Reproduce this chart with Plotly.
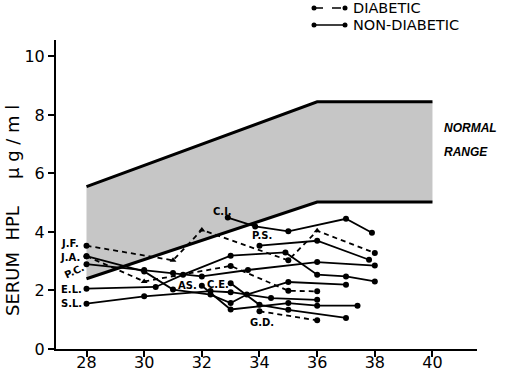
import plotly.graph_objects as go

# ---------------- data ----------------
weeks_ticks = [28, 30, 32, 34, 36, 38, 40]
value_ticks = [0, 2, 4, 6, 8, 10]

normal_weeks = [28, 36, 40]
normal_low = [2.4, 5.02, 5.02]
normal_high = [5.55, 8.45, 8.45]

# diabetic (dashed)
jf_w = [28, 31, 32, 35, 36, 38]
jf_v = [3.53, 3.03, 4.07, 3.03, 4.04, 3.28]
jf_sym = ["circle", "triangle-up", "triangle-up", "circle", "triangle-up", "circle"]
ja_w = [28, 30, 33, 35, 36]
ja_v = [3.17, 2.31, 2.84, 1.99, 1.97]
ja_sym = ["circle", "triangle-up", "circle", "circle", "circle"]
gd_w = [34, 36]
gd_v = [1.29, 0.98]
gd_sym = ["circle", "circle"]

# non-diabetic (solid)
ci_w = [32.9, 33.85, 35, 37, 37.9]
ci_v = [4.49, 4.19, 4.02, 4.45, 3.97]
ps_w = [34, 36, 37.8]
ps_v = [3.53, 3.70, 3.05]
pc_w = [28, 30, 31, 32, 33.6, 36, 38]
pc_v = [2.9, 2.7, 2.6, 2.48, 2.7, 2.97, 2.85]
el_w = [28, 30.4, 31.35, 33, 34.9, 36, 37, 38]
el_v = [2.06, 2.12, 2.54, 3.19, 3.3, 2.54, 2.48, 2.31]
sl_w = [28, 30, 32.3, 33, 34.4, 36]
sl_v = [1.55, 1.8, 1.98, 1.94, 1.74, 1.68]
ja2_w = [28, 30, 31, 32.3, 33, 33.56, 35, 37]
ja2_v = [3.17, 2.65, 2.03, 1.86, 1.57, 1.86, 2.29, 2.2]
as_w = [32, 33, 35, 36, 37.4]
as_v = [2.16, 1.35, 1.57, 1.48, 1.48]
ce_w = [33, 34, 35, 37]
ce_v = [2.25, 1.51, 1.34, 1.06]

diabetic = [(jf_w, jf_v, jf_sym), (ja_w, ja_v, ja_sym), (gd_w, gd_v, gd_sym)]
nondiabetic = [(ci_w, ci_v), (ps_w, ps_v), (pc_w, pc_v), (el_w, el_v),
               (sl_w, sl_v), (ja2_w, ja2_v), (as_w, as_v), (ce_w, ce_v)]

patient_labels = ["J.F.", "J.A.", "P.C.", "E.L.", "S.L.", "C.I.", "P.S.", "AS.", "C.E.", "G.D."]
label_w = [27.42, 27.42, 27.55, 27.48, 27.48, 32.7, 34.1, 31.5, 32.55, 34.1]
label_v = [3.6, 3.12, 2.66, 2.03, 1.55, 4.69, 3.87, 2.16, 2.2, 0.9]
label_angle = [0, 0, -25, 0, 0, 0, 0, 0, 0, 0]

FONT = "DejaVu Sans"

fig = go.Figure()

# normal range band
fig.add_trace(go.Scatter(x=normal_weeks, y=normal_low, mode="lines",
                         line=dict(color="black", width=3), hoverinfo="skip"))
fig.add_trace(go.Scatter(x=normal_weeks, y=normal_high, mode="lines",
                         fill="tonexty", fillcolor="#c6c6c6",
                         line=dict(color="black", width=3), hoverinfo="skip"))

for w, v, s in diabetic:
    fig.add_trace(go.Scatter(x=w, y=v, mode="lines+markers",
                             line=dict(color="black", width=1.8, dash="5px,4px"),
                             marker=dict(color="black", size=6, symbol=s)))
for w, v in nondiabetic:
    fig.add_trace(go.Scatter(x=w, y=v, mode="lines+markers",
                             line=dict(color="black", width=1.8),
                             marker=dict(color="black", size=6)))

annotations = []
for t, w, v, a in zip(patient_labels, label_w, label_v, label_angle):
    annotations.append(dict(x=w, y=v, xref="x", yref="y", text="<b>" + t + "</b>", showarrow=False,
                            textangle=a, font=dict(family=FONT, size=10, color="black")))

# normal range text
annotations.append(dict(x=(442 - 56) / 421, y=(349 - 128) / 309, xref="paper", yref="paper",
                        xanchor="left", yanchor="middle", showarrow=False,
                        text="<b><i>NORMAL</i></b>",
                        font=dict(family="Liberation Sans", size=12, color="black")))
annotations.append(dict(x=(442 - 56) / 421, y=(349 - 152) / 309, xref="paper", yref="paper",
                        xanchor="left", yanchor="middle", showarrow=False,
                        text="<b><i>RANGE</i></b>",
                        font=dict(family="Liberation Sans", size=12, color="black")))

# y axis title
annotations.append(dict(x=(12 - 56) / 421, y=(349 - 261) / 309, xref="paper", yref="paper",
                        textangle=-90, showarrow=False, xanchor="center", yanchor="middle",
                        text="SERUM\u00a0\u00a0HPL", font=dict(family=FONT, size=18, color="black")))
annotations.append(dict(x=(12 - 56) / 421, y=(349 - 142) / 309, xref="paper", yref="paper",
                        textangle=-90, showarrow=False, xanchor="center", yanchor="middle",
                        text="\u03bc\u00a0g\u00a0/\u00a0m\u00a0l", font=dict(family=FONT, size=18, color="black")))

# legend
def px(xp):
    return (xp - 56) / 421

def py(yp):
    return (349 - yp) / 309

shapes = []
leg_rows = [(8, "dash", "DIABETIC"), (25, "solid", "NON-DIABETIC")]
for yy, dash, txt in leg_rows:
    shapes.append(dict(type="line", xref="paper", yref="paper", x0=px(314), x1=px(345),
                       y0=py(yy), y1=py(yy), line=dict(color="black", width=1.5, dash=dash)))
    for xx in (314, 345):
        shapes.append(dict(type="circle", xref="paper", yref="paper", xsizemode="pixel",
                           ysizemode="pixel", xanchor=px(xx), yanchor=py(yy),
                           x0=-2.5, x1=2.5, y0=-2.5, y1=2.5,
                           fillcolor="black", line=dict(color="black", width=0)))
    annotations.append(dict(x=px(351), y=py(yy), xref="paper", yref="paper",
                            xanchor="left", yanchor="middle", showarrow=False, text=txt,
                            font=dict(family=FONT, size=14.5, color="black")))

fig.update_layout(
    width=505, height=376, autosize=False,
    margin=dict(l=56, r=28, t=40, b=27, autoexpand=False),
    paper_bgcolor="white", plot_bgcolor="white",
    showlegend=False,
    annotations=annotations, shapes=shapes,
    font=dict(family=FONT, color="black"),
)
fig.update_xaxes(range=[26.942, 41.544], tickvals=weeks_ticks, showgrid=False, zeroline=False,
                 showline=True, linecolor="black", linewidth=2, ticks="outside",
                 ticklen=6, tickwidth=2, tickcolor="black", automargin=False,
                 ticklabelstandoff=-8,
                 tickfont=dict(family=FONT, size=16, color="black"))
fig.update_yaxes(range=[0, 10.56], tickvals=value_ticks, showgrid=False, zeroline=False,
                 showline=True, linecolor="black", linewidth=2, ticks="outside",
                 ticklen=6, tickwidth=2, tickcolor="black", automargin=False,
                 tickfont=dict(family=FONT, size=16, color="black"))

fig.write_html("out.html", config={"responsive": False, "displayModeBar": False},
               post_script="document.body.style.margin='0';document.body.style.overflow='hidden';")
